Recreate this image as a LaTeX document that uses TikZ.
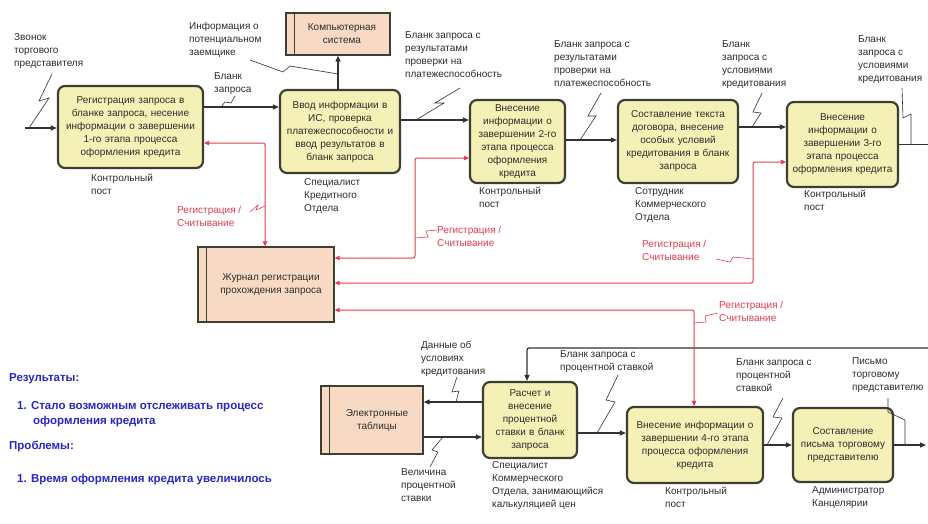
\documentclass[tikz,border=0pt]{standalone}
\usepackage{fontspec}
\setmainfont{Liberation Sans}
\usetikzlibrary{arrows.meta,calc}
\definecolor{boxY}{RGB}{245,240,182}
\definecolor{boxP}{RGB}{248,218,196}
\definecolor{edgeC}{RGB}{62,62,50}
\definecolor{lnC}{RGB}{50,50,50}
\definecolor{redC}{RGB}{228,60,80}
\definecolor{bluC}{RGB}{40,40,200}
\definecolor{txC}{RGB}{45,45,45}
\newcommand\lf{\fontsize{10}{13}\selectfont}
\begin{document}
\begin{tikzpicture}[x=1pt,y=-1pt,
  proc/.style={draw=edgeC, line width=2.2pt, fill=boxY, rounded corners=7pt, align=center, font=\lf, text=txC, inner sep=2pt},
  store/.style={draw=edgeC, line width=1.3pt, fill=boxP, align=center, font=\lf, text=txC},
  lab/.style={anchor=north west, align=left, inner sep=0pt, font=\lf, text=txC},
  rlab/.style={lab, text=redC},
  arr/.style={draw=lnC, line width=1.2pt, -{Triangle[length=6pt,width=5pt]}},
  plainln/.style={draw=lnC, line width=1.2pt},
  rarr/.style={draw=redC, line width=1pt, rounded corners=2pt, {Triangle[length=5pt,width=4.5pt]}-{Triangle[length=5pt,width=4.5pt]}},
  sq/.style={draw=lnC, line width=0.6pt},
  rsq/.style={draw=redC, line width=0.6pt},
  blu/.style={anchor=north west, align=left, inner sep=0pt, text=bluC, font=\fontsize{11.5}{15}\selectfont\bfseries}]
\useasboundingbox (0,0) rectangle (928,524);
\fill[white] (0,0) rectangle (928,524);

% process boxes
\node[proc, minimum width=145pt, minimum height=82pt, text width=139pt] (b1) at (130.5,127)
  {Регистрация запроса в\\бланке запроса, несение\\информации о завершении\\1-го этапа процесса\\оформления кредита};
\node[proc, minimum width=120pt, minimum height=83pt, text width=116pt] (b2) at (340,131.5)
  {Ввод информации в\\ИС, проверка\\платежеспособности и\\ввод результатов в\\бланк запроса};
\node[proc, minimum width=95pt, minimum height=83pt, text width=91pt] (b3) at (517.5,141.5)
  {Внесение\\информации о\\завершении 2-го\\этапа процесса\\оформления\\кредита};
\node[proc, minimum width=120pt, minimum height=83pt, text width=116pt] (b4) at (678,141.5)
  {Составление текста\\договора, внесение\\особых условий\\кредитования в бланк\\запроса};
\node[proc, minimum width=111pt, minimum height=85pt, text width=107pt] (b5) at (842.5,144.5)
  {Внесение\\информации о\\завершении 3-го\\этапа процесса\\оформления кредита};
\node[proc, minimum width=94pt, minimum height=76pt, text width=90pt] (b6) at (530,420)
  {Расчет и\\внесение\\процентной\\ставки в бланк\\запроса};
\node[proc, minimum width=136pt, minimum height=76pt, text width=132pt] (b7) at (695,445)
  {Внесение информации о\\завершении 4-го этапа\\процесса оформления\\кредита};
\node[proc, minimum width=100pt, minimum height=74pt, text width=96pt] (b8) at (843,445)
  {Составление\\письма торговому\\представителю};

% stores
\node[store, minimum width=104pt, minimum height=42pt] (comp) at (338,34) {\hspace{8pt}Компьютерная\\\hspace{8pt}система};
\node[store, minimum width=136pt, minimum height=75pt] (jr) at (266,284.5) {\hspace{10pt}Журнал регистрации\\\hspace{10pt}прохождения запроса};
\node[store, minimum width=102pt, minimum height=68pt] (et) at (372,420) {\hspace{10pt}Электронные\\\hspace{10pt}таблицы};
\foreach \s in {comp,jr,et}
  \draw[edgeC, line width=1.3pt] ([xshift=9pt]\s.north west) -- ([xshift=9pt]\s.south west);

% black connectors
\coordinate (src) at (25,128);
\draw[arr] (src) -- (src -| b1.west);
\coordinate (c12) at ([yshift=20pt]b1.east);
\draw[arr] (c12) -- (c12 -| b2.west);
\draw[arr] (comp.south |- b2.north) -- (comp.south);
\coordinate (c23) at ([yshift=11.5pt]b2.east);
\draw[arr] (c23) -- (c23 -| b3.west);
\coordinate (c34) at ([yshift=1.5pt]b3.east);
\draw[arr] (c34) -- (c34 -| b4.west);
\coordinate (c45) at ([yshift=14.5pt]b4.east);
\draw[arr] (c45) -- (c45 -| b5.west);
\coordinate (o5) at (928,144);
\draw[plainln] (b5.east) -- (b5.east -| o5);
\coordinate (f1) at (928,348);
\draw[arr, rounded corners=2pt] (f1) -| ([xshift=-3pt]b6.north);
\coordinate (c6e) at ([yshift=18pt]b6.west);
\draw[arr] (c6e) -- (c6e -| et.east);
\coordinate (ce6) at ([yshift=-17pt]et.east);
\draw[arr] (ce6) -- (ce6 -| b6.west);
\coordinate (c67) at ([yshift=-13pt]b6.east);
\draw[arr] (c67) -- (c67 -| b7.west);
\draw[arr] (b7.east) -- (b7.east -| b8.west);
\coordinate (o8) at (926,445);
\draw[arr] (b8.east) -- (o8);

% red connectors
\coordinate (rb1) at ([yshift=-16pt]b1.east);
\draw[rarr] (rb1) -| ([xshift=-1pt]jr.north);
\coordinate (rj2) at ([yshift=26.5pt]jr.east);
\coordinate (rb3) at ([yshift=-16.5pt]b3.west);
\coordinate (m2) at (415,200);
\draw[rarr] (rj2) -| (m2) |- (rb3);
\coordinate (rj3) at ([yshift=1.5pt]jr.east);
\coordinate (rb5) at ([yshift=-17.5pt]b5.west);
\coordinate (m3) at (753,220);
\draw[rarr] (rj3) -| (m3) |- (rb5);
\coordinate (rj4) at ([yshift=-25.5pt]jr.east);
\draw[rarr] (rj4) -| ([xshift=-1pt]b7.north);

% labels
\node[lab] (l1) at (14,33) {Звонок\\торгового\\представителя};
\node[lab] (l2) at (189,22) {Информация о\\потенциальном\\заемщике};
\node[lab] (l3) at (214,72) {Бланк\\запроса};
\node[lab] (l4) at (405,31) {Бланк запроса с\\результатами\\проверки на\\платежеспособность};
\node[lab] (l5) at (554,40) {Бланк запроса с\\результатами\\проверки на\\платежеспособность};
\node[lab] (l6) at (722,40) {Бланк\\запроса с\\условиями\\кредитования};
\node[lab] (l7) at (858,35) {Бланк\\запроса с\\условиями\\кредитования};
\node[lab] (m1) at (91,174) {Контрольный\\пост};
\node[lab] (mm2) at (304,178) {Специалист\\Кредитного\\Отдела};
\node[lab] (mm3) at (479,187) {Контрольный\\пост};
\node[lab] (mm4) at (635,187) {Сотрудник\\Коммерческого\\Отдела};
\node[lab] (mm5) at (804,190) {Контрольный\\пост};
\node[lab] (mm6) at (492,461) {Специалист\\Коммерческого\\Отдела, занимающийся\\калькуляцией цен};
\node[lab] (mm7) at (665,487) {Контрольный\\пост};
\node[lab] (mm8) at (812,486) {Администратор\\Канцелярии};
\node[rlab] (r1) at (177,206) {Регистрация /\\Считывание};
\node[rlab] (r2) at (437,226) {Регистрация /\\Считывание};
\node[rlab] (r3) at (642,240) {Регистрация /\\Считывание};
\node[rlab] (r4) at (719,301) {Регистрация /\\Считывание};
\node[lab] (l8) at (421,341) {Данные об\\условиях\\кредитования};
\node[lab] (l9) at (401,468) {Величина\\процентной\\ставки};
\node[lab] (l10) at (560,350) {Бланк запроса с\\процентной ставкой};
\node[lab] (l11) at (736,358) {Бланк запроса с\\процентной\\ставкой};
\node[lab] (l12) at (852,357) {Письмо\\торговому\\представителю};

% squiggles
\draw[sq] (52,74) -- (39,101) -- (49,98) -- (29,128);
\draw[sq] (235,96) -- (231,103) -- (225,102) -- (221,107);
\draw[sq] (250,60) -- (283,72) -- (290,66) -- (338,74);
\draw[sq] (460,88) -- (435,103) -- (444,103) -- (416,120);
\draw[sq] (601,93) -- (588,116) -- (596,116) -- (580,140);
\draw[sq] (762,93) -- (753,112) -- (761,113) -- (752,127);
\draw[sq] (902,88) -- (903,118) -- (911,114) -- (911,144);
\draw[rsq] (250,212) -- (258,205) -- (256,210) -- (265,206);
\draw[rsq] (437,230) -- (426,231) -- (428,237) -- (415,238);
\draw[rsq] (716,259) -- (730,262) -- (733,257) -- (753,259);
\draw[rsq] (718,313) -- (705,316) -- (706,322) -- (694,323);
\draw[sq] (457,377) -- (452,392) -- (459,391) -- (456,402);
\draw[sq] (430,467) -- (438,452) -- (432,450) -- (443,437);
\draw[sq] (618,375) -- (606,400) -- (615,402) -- (597,433);
\draw[sq] (783,398) -- (773,417) -- (782,418) -- (767,445);
\draw[sq] (888,398) -- (888,412) -- (905,420) -- (905,445);

% blue notes
\node[blu] (n1) at (9,373) {Результаты:};
\node[blu] (n2) at (17,401) {1. Стало возможным отслеживать процесс\\\hspace{16pt}оформления кредита};
\node[blu] (n3) at (9,441) {Проблемы:};
\node[blu] (n4) at (17,474) {1. Время оформления кредита увеличилось};
\end{tikzpicture}
\end{document}
